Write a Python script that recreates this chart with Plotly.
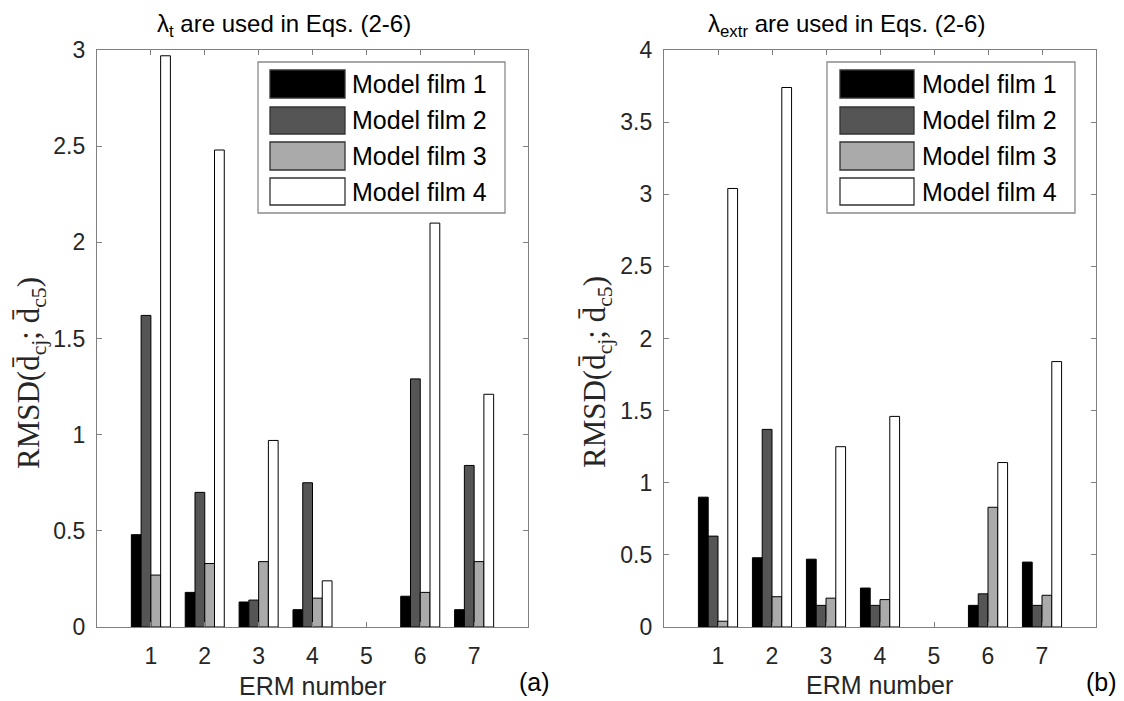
import plotly.graph_objects as go

# ---------------- data ----------------
erm = [1, 2, 3, 4, 5, 6, 7]
series_names = ["Model film 1", "Model film 2", "Model film 3", "Model film 4"]

a_film1 = [0.48, 0.18, 0.13, 0.09, 0.0, 0.16, 0.09]
a_film2 = [1.62, 0.70, 0.14, 0.75, 0.0, 1.29, 0.84]
a_film3 = [0.27, 0.33, 0.34, 0.15, 0.0, 0.18, 0.34]
a_film4 = [2.97, 2.48, 0.97, 0.24, 0.0, 2.10, 1.21]

b_film1 = [0.90, 0.48, 0.47, 0.27, 0.0, 0.15, 0.45]
b_film2 = [0.63, 1.37, 0.15, 0.15, 0.0, 0.23, 0.15]
b_film3 = [0.04, 0.21, 0.20, 0.19, 0.0, 0.83, 0.22]
b_film4 = [3.04, 3.74, 1.25, 1.46, 0.0, 1.14, 1.84]

a_ticks = [0, 0.5, 1, 1.5, 2, 2.5, 3]
a_ticklabels = ["0", "0.5", "1", "1.5", "2", "2.5", "3"]
b_ticks = [0, 0.5, 1, 1.5, 2, 2.5, 3, 3.5, 4]
b_ticklabels = ["0", "0.5", "1", "1.5", "2", "2.5", "3", "3.5", "4"]

# ---------------- style ----------------
W, H = 1124, 701
OFF = 8  # page body margin offset
colors = ["#000000", "#555555", "#aaaaaa", "#ffffff"]
text_col = "#262626"
axis_col = "#808080"
sans = "Liberation Sans, Arial, sans-serif"
serif = "Liberation Serif, Times New Roman, serif"


def px(x):
    return (x - OFF) / W


def py(y):
    return (H - (y - OFF)) / H


fig = go.Figure()


def edge_widths(vals):
    # zero-height bars are not outlined (as in the reference)
    return [1 if v > 0 else 0 for v in vals]


for vals, name, col in zip([a_film1, a_film2, a_film3, a_film4], series_names, colors):
    fig.add_trace(go.Bar(x=erm, y=vals, name=name, xaxis="x", yaxis="y",
                         marker=dict(color=col, line=dict(color="#000000", width=edge_widths(vals))),
                         showlegend=False))
for vals, name, col in zip([b_film1, b_film2, b_film3, b_film4], series_names, colors):
    fig.add_trace(go.Bar(x=erm, y=vals, name=name, xaxis="x2", yaxis="y2",
                         marker=dict(color=col, line=dict(color="#000000", width=edge_widths(vals))),
                         showlegend=False))

common_x = dict(range=[0, 8], tickmode="array", tickvals=erm, ticktext=[str(v) for v in erm],
                ticks="inside", ticklen=5, tickcolor=axis_col, showline=True, linecolor=axis_col,
                linewidth=1.3, mirror="ticks", showgrid=False, zeroline=False,
                tickfont=dict(family=sans, size=23, color=text_col), ticklabelstandoff=8,
                automargin=False, fixedrange=True, layer="above traces")
common_y = dict(ticks="inside", ticklen=5, tickcolor=axis_col, showline=True, linecolor=axis_col,
                linewidth=1.3, mirror="ticks", showgrid=False, zeroline=False,
                tickfont=dict(family=sans, size=23, color=text_col), ticklabelstandoff=6,
                automargin=False, fixedrange=True, layer="above traces")

y_bottom = 627
y_top = 50

fig.update_layout(
    width=W, height=H, autosize=False,
    margin=dict(l=0, r=0, t=0, b=0, pad=0),
    paper_bgcolor="white", plot_bgcolor="white",
    barmode="group", bargap=0.275, bargroupgap=0.0,
    xaxis=dict(domain=[px(97), px(528)], anchor="y", **common_x),
    yaxis=dict(domain=[py(y_bottom), py(y_top)], anchor="x", range=[0, 3],
               tickmode="array", tickvals=a_ticks, ticktext=a_ticklabels, **common_y),
    xaxis2=dict(domain=[px(664), px(1096)], anchor="y2", **common_x),
    yaxis2=dict(domain=[py(y_bottom), py(y_top)], anchor="x2", range=[0, 4],
                tickmode="array", tickvals=b_ticks, ticktext=b_ticklabels, **common_y),
)

shapes = []
annotations = []

# ---------------- legends (drawn by hand to match large swatches) ----------------
def add_legend(box_l, box_r, sw_l, sw_r, text_x):
    shapes.append(dict(type="rect", xref="paper", yref="paper",
                       x0=px(box_l), x1=px(box_r), y0=py(213), y1=py(62),
                       line=dict(color="#8a8a8a", width=1.3), fillcolor="white", layer="above"))
    rows = [(70, 98), (107, 134), (142, 170), (178, 205)]
    for (t, b), name, col in zip(rows, series_names, colors):
        shapes.append(dict(type="rect", xref="paper", yref="paper",
                           x0=px(sw_l), x1=px(sw_r), y0=py(b), y1=py(t),
                           line=dict(color="#333333", width=1.3), fillcolor=col, layer="above"))
        annotations.append(dict(xref="paper", yref="paper", x=px(text_x), y=py((t + b) / 2),
                                xanchor="left", yanchor="middle", showarrow=False,
                                text=name, font=dict(family=sans, size=25, color="#000000")))


add_legend(258, 505, 270, 345, 350)
add_legend(827, 1075, 840, 914, 920)

# ---------------- titles and labels ----------------
annotations += [
    dict(xref="paper", yref="paper", x=px(155), y=py(25), xanchor="left", yanchor="middle",
         showarrow=False, text="λ<sub>t</sub> are used in Eqs. (2-6)",
         font=dict(family=sans, size=24, color="#000000")),
    dict(xref="paper", yref="paper", x=px(706), y=py(25), xanchor="left", yanchor="middle",
         showarrow=False, text="λ<sub>extr</sub> are used in Eqs. (2-6)",
         font=dict(family=sans, size=24, color="#000000")),
    dict(xref="paper", yref="paper", x=px(312), y=py(686), xanchor="center", yanchor="middle",
         showarrow=False, text="ERM number", font=dict(family=sans, size=25, color=text_col)),
    dict(xref="paper", yref="paper", x=px(879), y=py(685), xanchor="center", yanchor="middle",
         showarrow=False, text="ERM number", font=dict(family=sans, size=25, color=text_col)),
    dict(xref="paper", yref="paper", x=px(534), y=py(682), xanchor="center", yanchor="middle",
         showarrow=False, text="(a)", font=dict(family=sans, size=25, color="#000000")),
    dict(xref="paper", yref="paper", x=px(1101), y=py(682), xanchor="center", yanchor="middle",
         showarrow=False, text="(b)", font=dict(family=sans, size=25, color="#000000")),
    dict(xref="paper", yref="paper", x=px(31), y=py(373), xanchor="center", yanchor="middle",
         showarrow=False, textangle=-90,
         text="RMSD(d\u0304<sub>cj</sub>; d\u0304<sub>c5</sub>)",
         font=dict(family=serif, size=31, color=text_col)),
    dict(xref="paper", yref="paper", x=px(597), y=py(372), xanchor="center", yanchor="middle",
         showarrow=False, textangle=-90,
         text="RMSD(d\u0304<sub>cj</sub>; d\u0304<sub>c5</sub>)",
         font=dict(family=serif, size=31, color=text_col)),
]

fig.update_layout(shapes=shapes, annotations=annotations)
fig.write_html("out.html")
